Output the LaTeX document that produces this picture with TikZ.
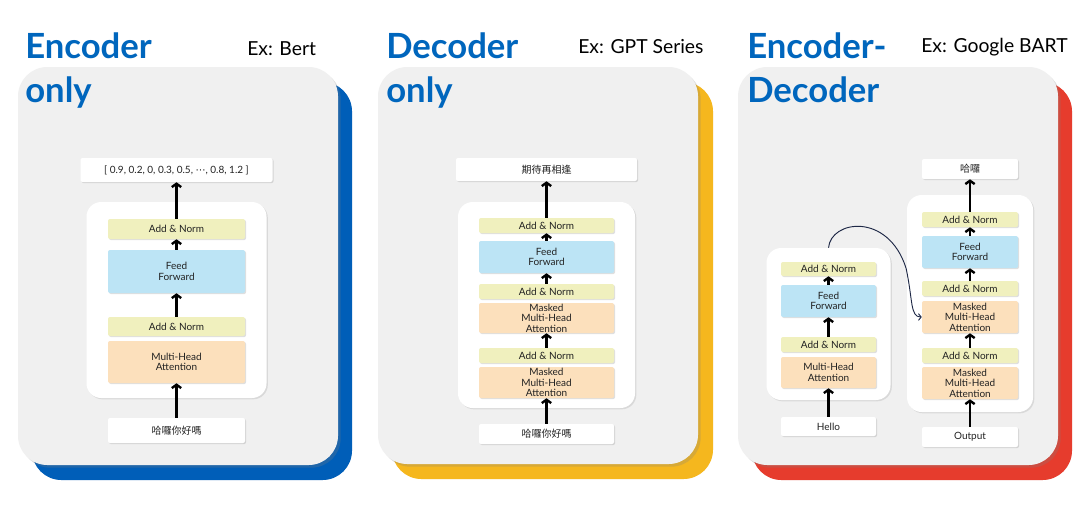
\documentclass[tikz,border=0pt]{standalone}
\usepackage{fontspec}
\setmainfont{Lato}
\newfontfamily\cjk{Noto Sans CJK TC}
\newfontfamily\symfont{DejaVu Sans}
\usetikzlibrary{arrows.meta,shadows}
\definecolor{titleblue}{RGB}{0,102,189}
\definecolor{cardgray}{RGB}{240,240,240}
\definecolor{cardblue}{RGB}{0,94,184}
\definecolor{cardyellow}{RGB}{245,183,30}
\definecolor{cardred}{RGB}{230,60,45}
\definecolor{normcol}{RGB}{240,240,190}
\definecolor{ffcol}{RGB}{188,228,245}
\definecolor{attcol}{RGB}{252,224,188}
\definecolor{txt}{RGB}{34,34,34}
\definecolor{linkcol}{RGB}{30,40,70}
\begin{document}
\begin{tikzpicture}[x=0.75pt,y=-0.75pt,
  card/.style={rounded corners=22pt},
  cardshadow/.style={drop shadow={shadow xshift=2pt,shadow yshift=-2pt,opacity=0.25}},
  wrap/.style={fill=white,rounded corners=11pt,inner sep=0pt,drop shadow={shadow xshift=1pt,shadow yshift=-1pt,opacity=0.2}},
  layer/.style={rounded corners=1.5pt,inner sep=0pt,align=center,text=txt,font=\fontsize{7.5}{7.8}\selectfont,drop shadow={shadow xshift=0.8pt,shadow yshift=-0.8pt,opacity=0.25}},
  normbox/.style={layer,fill=normcol},
  ffbox/.style={layer,fill=ffcol},
  attbox/.style={layer,fill=attcol},
  iobox/.style={layer,fill=white},
  flow/.style={line width=1.8pt,-{Straight Barb[length=2.5pt,width=7pt]}},
  link/.style={line width=0.7pt,linkcol,-{Straight Barb[length=2pt,width=5pt]}},
  title/.style={anchor=base west,inner sep=0pt,text=titleblue,font=\fontsize{26}{30}\bfseries\selectfont},
  extag/.style={anchor=base west,inner sep=0pt,text=black,font=\fontsize{14.5}{17}\selectfont}]
\useasboundingbox (0,0) rectangle (1084,508);
\fill[white] (0,0) rectangle (1084,508);

\fill[cardblue,card] (32,82) rectangle (352,480);
\fill[cardgray,card,cardshadow] (18,67) rectangle (338,465);
\fill[cardyellow,card] (392,82) rectangle (713,479);
\fill[cardgray,card,cardshadow] (378,67) rectangle (698,464);
\fill[cardred,card] (752,82) rectangle (1072,480);
\fill[cardgray,card,cardshadow] (738,67) rectangle (1058,465);

\node[title] (t1a) at (25,58) {Encoder};
\node[title] (t1b) at (25,102) {only};
\node[extag] (x1) at (247,55) {Ex: Bert};
\node[title] (t2a) at (386,58) {Decoder};
\node[title] (t2b) at (386,102) {only};
\node[extag] (x2) at (578,53) {Ex: GPT Series};
\node[title] (t3a) at (747,58) {Encoder-};
\node[title] (t3b) at (747,102) {Decoder};
\node[extag] (x3) at (921,52) {Ex: Google BART};

\node[iobox,minimum width=144pt,minimum height=18pt] (out1) at (176.5,170) {[ 0.9, 0.2, 0, 0.3, 0.5, {\symfont ⋯}, 0.8, 1.2 ]};
\node[wrap,minimum width=135pt,minimum height=147pt] (wrap1) at (176.5,300) {};
\node[normbox,minimum width=102.75pt,minimum height=15pt] (norm1b) at (176.5,229) {Add \& Norm};
\node[ffbox,minimum width=102.75pt,minimum height=32.25pt] (ff1) at (176.5,271.5) {Feed\\Forward};
\node[normbox,minimum width=102.75pt,minimum height=14.25pt] (norm1a) at (176.5,326.5) {Add \& Norm};
\node[attbox,minimum width=102.75pt,minimum height=31.5pt] (att1) at (176.5,362) {Multi-Head\\Attention};
\node[iobox,minimum width=102.75pt,minimum height=18.75pt] (in1) at (176.5,430.5) {{\cjk 哈囉你好嗎}};
\draw[flow] (in1) -- (att1);
\draw[flow] (norm1a) -- (ff1);
\draw[flow] (ff1) -- (norm1b);
\draw[flow] (norm1b) -- (out1);

\node[iobox,minimum width=135.75pt,minimum height=17.25pt] (out2) at (546.5,169.5) {{\cjk 期待再相逢}};
\node[wrap,minimum width=132.75pt,minimum height=154.5pt] (wrap2) at (546.5,305) {};
\node[normbox,minimum width=101.25pt,minimum height=11.25pt] (norm2c) at (546.5,225.5) {Add \& Norm};
\node[ffbox,minimum width=101.25pt,minimum height=24pt] (ff2) at (546.5,257) {Feed\\Forward};
\node[normbox,minimum width=101.25pt,minimum height=11.25pt] (norm2b) at (546.5,291.5) {Add \& Norm};
\node[attbox,minimum width=101.25pt,minimum height=22.5pt] (att2b) at (546.5,318) {Masked\\Multi-Head\\Attention};
\node[normbox,minimum width=101.25pt,minimum height=11.25pt] (norm2a) at (546.5,355.5) {Add \& Norm};
\node[attbox,minimum width=101.25pt,minimum height=23.25pt] (att2a) at (546.5,382.5) {Masked\\Multi-Head\\Attention};
\node[iobox,minimum width=101.25pt,minimum height=15pt] (in2) at (546.5,434) {{\cjk 哈囉你好嗎}};
\draw[flow] (in2) -- (att2a);
\draw[flow] (norm2a) -- (att2b);
\draw[flow] (norm2b) -- (ff2);
\draw[flow] (ff2) -- (norm2c);
\draw[flow] (norm2c) -- (out2);

\node[wrap,minimum width=93pt,minimum height=114pt] (wrap3e) at (828.5,324) {};
\node[normbox,minimum width=71.25pt,minimum height=10.5pt] (norm3e2) at (828.5,269) {Add \& Norm};
\node[ffbox,minimum width=71.25pt,minimum height=24pt] (ff3e) at (828.5,301) {Feed\\Forward};
\node[normbox,minimum width=71.25pt,minimum height=11.25pt] (norm3e1) at (828.5,344.5) {Add \& Norm};
\node[attbox,minimum width=71.25pt,minimum height=23.25pt] (att3e) at (828.5,372.5) {Multi-Head\\Attention};
\node[iobox,minimum width=71.25pt,minimum height=14.25pt] (in3e) at (828.5,426.5) {Hello};
\draw[flow] (in3e) -- (att3e);
\draw[flow] (norm3e1) -- (ff3e);
\draw[flow] (ff3e) -- (norm3e2);

\node[iobox,minimum width=72pt,minimum height=15pt] (out3) at (970,169) {{\cjk 哈囉}};
\node[wrap,minimum width=94.5pt,minimum height=162.75pt] (wrap3d) at (970,303.5) {};
\node[normbox,minimum width=72pt,minimum height=11.25pt] (norm3d3) at (970,219.5) {Add \& Norm};
\node[ffbox,minimum width=72pt,minimum height=24pt] (ff3d) at (970,252) {Feed\\Forward};
\node[normbox,minimum width=72pt,minimum height=11.25pt] (norm3d2) at (970,288.5) {Add \& Norm};
\node[attbox,minimum width=72pt,minimum height=24pt] (att3d2) at (970,317) {Masked\\Multi-Head\\Attention};
\node[normbox,minimum width=72pt,minimum height=11.25pt] (norm3d1) at (970,355.5) {Add \& Norm};
\node[attbox,minimum width=72pt,minimum height=24pt] (att3d1) at (970,383) {Masked\\Multi-Head\\Attention};
\node[iobox,minimum width=72pt,minimum height=15pt] (in3d) at (970,437) {Output};
\draw[flow] (in3d) -- (att3d1);
\draw[flow] (norm3d1) -- (att3d2);
\draw[flow] (norm3d2) -- (ff3d);
\draw[flow] (ff3d) -- (norm3d3);
\draw[flow] (norm3d3) -- (out3);

\draw[link] (wrap3e.north) .. controls (831,220) and (888,212) .. (906,268) .. controls (913,300) and (910,317) .. (att3d2.west);
\end{tikzpicture}
\end{document}
